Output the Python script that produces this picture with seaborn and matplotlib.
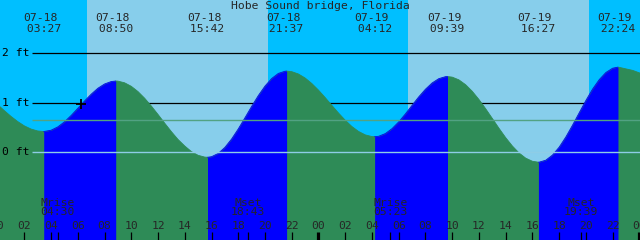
import numpy as np
import pandas as pd
import matplotlib
matplotlib.use("Agg")
import matplotlib.pyplot as plt
import seaborn as sns

# ---------------- data ----------------
title = "Hobe Sound bridge, Florida"
start_day = "07-18"

event_dates = ["07-18", "07-18", "07-18", "07-18", "07-19", "07-19", "07-19", "07-19"]
event_times = ["03:27", "08:50", "15:42", "21:37", "04:12", "09:39", "16:27", "22:24"]
event_feet = [0.42, 1.44, -0.10, 1.64, 0.315, 1.53, -0.20, 1.72]
event_kind = ["low", "high", "low", "high", "low", "high", "low", "high"]

# half-hourly readings of the tide curve (hours since 07-18 00:00, feet)
curve_hours = [0.0, 0.5, 1.0, 1.5, 2.0, 2.5, 3.0, 4.0, 4.5, 5.0, 5.5, 6.0, 6.5,
               7.0, 7.5, 8.0, 8.5, 9.0, 9.5, 10.0, 10.5, 11.0, 11.5, 12.0, 12.5,
               13.0, 13.5, 14.0, 14.5, 15.0, 15.5, 16.0, 16.5, 17.0, 17.5, 18.0,
               18.5, 19.0, 19.5, 20.0, 20.5, 21.0, 21.5, 22.0, 22.5, 23.0, 23.5,
               24.0, 24.5, 25.0, 25.5, 26.0, 26.5, 27.0, 27.5, 28.0, 28.5, 29.0,
               29.5, 30.0, 30.5, 31.0, 31.5, 32.0, 32.5, 33.0, 33.5, 34.0, 34.5,
               35.0, 35.5, 36.0, 36.5, 37.0, 37.5, 38.0, 38.5, 39.0, 39.5, 40.0,
               40.5, 41.0, 41.5, 42.0, 42.5, 43.0, 43.5, 44.0, 44.5, 45.0, 45.5,
               46.0, 46.5, 47.0, 47.5, 48.0, 48.5]
curve_feet = [0.965, 0.842, 0.726, 0.622, 0.534, 0.470, 0.431, 0.446, 0.513, 0.615,
              0.744, 0.888, 1.036, 1.174, 1.294, 1.380, 1.430, 1.438, 1.404, 1.333,
              1.227, 1.092, 0.934, 0.764, 0.588, 0.417, 0.258, 0.127, 0.014, -0.061,
              -0.097, -0.089, -0.023, 0.099, 0.268, 0.472, 0.697, 0.927, 1.146,
              1.338, 1.491, 1.594, 1.638, 1.629, 1.582, 1.501, 1.390, 1.256, 1.106,
              0.948, 0.793, 0.648, 0.521, 0.421, 0.352, 0.318, 0.324, 0.378, 0.478,
              0.614, 0.775, 0.949, 1.120, 1.274, 1.401, 1.488, 1.528, 1.519, 1.464,
              1.367, 1.233, 1.068, 0.882, 0.685, 0.486, 0.297, 0.128, -0.013, -0.118,
              -0.181, -0.199, -0.160, -0.056, 0.103, 0.309, 0.547, 0.798, 1.047,
              1.277, 1.469, 1.613, 1.699, 1.716, 1.685, 1.655, 1.605, 1.56]

sun_dates = ["07-18", "07-19"]
sunrise_times = ["06:41", "06:41"]
sunset_times = ["20:13", "20:13"]

moon_labels = ["Mrise", "Mset", "Mrise", "Mset"]
moon_dates = ["07-18", "07-18", "07-19", "07-19"]
moon_times = ["04:30", "18:43", "05:23", "19:39"]

feet_levels = [0, 1, 2]
feet_labels = ["0 ft", "1 ft", "2 ft"]
mid_level = 0.646

hour_ticks = list(range(0, 50, 2))
hour_labels = ["%02d" % (h % 24) for h in hour_ticks]

now_hour = 6.24
now_feet = 0.975

# ---------------- helpers ----------------
def to_hours(d, t):
    base = pd.Timestamp("2000-" + start_day)
    ts = pd.Timestamp("2000-" + d + " " + t)
    return (ts - base).total_seconds() / 3600.0

ev_h = [to_hours(d, t) for d, t in zip(event_dates, event_times)]
sr_h = [to_hours(d, t) for d, t in zip(sun_dates, sunrise_times)]
ss_h = [to_hours(d, t) for d, t in zip(sun_dates, sunset_times)]
mo_h = [to_hours(d, t) for d, t in zip(moon_dates, moon_times)]

# ---------------- colours / layout ----------------
NIGHT = "#00BFFF"
DAY = "#87CEEB"
RISE = "#0000FF"
FALL = "#2E8B57"
DATUM = "#8ECDE6"
MSL = "#52A283"

PX_PER_H = 13.37
X0_PX = -2.4            # pixel position of 07-18 00:00
PX_PER_FT = 49.5
Y0_PX = 152.3           # pixel row of 0 ft
W, H = 640, 240

xmin = -X0_PX / PX_PER_H
xmax = (W - X0_PX) / PX_PER_H
ymax = Y0_PX / PX_PER_FT
ymin = -(H - Y0_PX) / PX_PER_FT

def py(px):   # pixel row -> feet
    return (Y0_PX - px) / PX_PER_FT

def dx(px):   # pixel offset -> hours
    return px / PX_PER_H

sns.set_style("white")
plt.rcParams["font.family"] = ["DejaVu Sans Mono", "DejaVu Sans"]
FS = 8.2

fig = plt.figure(figsize=(6.4, 2.4), dpi=100)
ax = fig.add_axes([0, 0, 1, 1])
fig.patch.set_facecolor(NIGHT)

# sky
ax.axvspan(xmin - 5, xmax + 5, color=NIGHT, zorder=0, lw=0)
for a, b in zip(sr_h, ss_h):
    ax.axvspan(a, b, facecolor=DAY, lw=0, antialiased=False, zorder=0.1)

# grid lines behind water
line_start = dx(32 - X0_PX)
for lv in feet_levels[1:]:
    ax.hlines(lv, line_start, xmax + 1, colors="black", lw=0.9, zorder=1)

# water
df = pd.DataFrame({"hours": curve_hours + ev_h, "feet": curve_feet + event_feet})
df = df.sort_values("hours").drop_duplicates("hours").reset_index(drop=True)
# whole water body in ebb colour, flood segments painted over it
ax.fill_between(df.hours, ymin - 1, df.feet, facecolor=FALL, lw=0, zorder=2)
bounds = [-1e9] + ev_h + [1e9]
seg_rows = []
for i in range(len(bounds) - 1):
    lo, hi = bounds[i], bounds[i + 1]
    seg = df[(df.hours >= lo) & (df.hours <= hi)].copy()
    if i == 0:
        phase = "fall"
    else:
        phase = "rise" if event_kind[i - 1] == "low" else "fall"
    seg["phase"] = phase
    seg["segment"] = i
    seg_rows.append(seg)
    if phase == "rise":
        ax.fill_between(seg.hours, ymin - 1, seg.feet, facecolor=RISE, lw=0,
                        antialiased=False, zorder=2.2)
segs = pd.concat(seg_rows, ignore_index=True)
sns.lineplot(data=segs, x="hours", y="feet", hue="phase", units="segment",
             estimator=None, palette={"rise": RISE, "fall": FALL}, lw=0.6,
             legend=False, ax=ax, zorder=2.5)
ax.set_xlim(xmin, xmax)
ax.set_ylim(ymin, ymax)
ax.axis("off")

# datum & mid lines over water
ax.hlines(0, line_start, xmax + 1, colors=DATUM, lw=1.0, zorder=3)
ax.hlines(mid_level, line_start, xmax + 1, colors=MSL, lw=1.0, zorder=3)

# feet labels
for lv, lab in zip(feet_levels, feet_labels):
    ax.text(dx(2 - X0_PX), lv, lab, ha="left", va="center", fontsize=FS,
            color="black", zorder=5)

# current-time marker
ax.plot([now_hour], [now_feet], marker="+", color="black", ms=7, mew=1.3, zorder=5)

# title and event labels
ax.text((xmin + xmax) / 2, py(6.0), title, ha="center", va="center",
        fontsize=FS, zorder=5)
for h, d, t in zip(ev_h, event_dates, event_times):
    ax.text(h - dx(3.5), py(23.5), d + "\n " + t, ha="center", va="center",
            multialignment="center", linespacing=1.02, fontsize=FS, zorder=5)

# moon labels
for h, lab, t in zip(mo_h, moon_labels, moon_times):
    ax.text(h, py(207.5), lab + "\n" + t, ha="center", va="center",
            multialignment="center", linespacing=0.93, fontsize=FS, zorder=5)

# hour axis
tick_top = py(232)
for h, lab in zip(hour_ticks, hour_labels):
    ax.text(h, py(226), lab, ha="center", va="center", fontsize=FS, zorder=5)
    midnight = (h % 24 == 0)
    ax.vlines(h, ymin - 1, tick_top, colors="black",
              lw=2.3 if midnight else 0.9, zorder=5)
ax.vlines(mo_h, ymin - 1, tick_top, colors="black", lw=0.9, zorder=5)

fig.savefig("out.png", dpi=100, facecolor=NIGHT)
